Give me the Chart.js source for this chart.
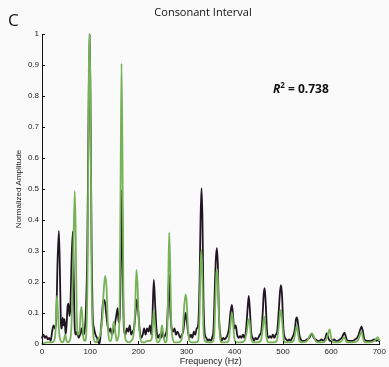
<!DOCTYPE html>
<html>
<head>
<meta charset="utf-8">
<script src="https://cdn.jsdelivr.net/npm/chart.js@4"></script>
<style>
  html, body { margin: 0; padding: 0; background: #fafafa; }
  #wrap { width: 389px; height: 367px; }
</style>
</head>
<body>
<div id="wrap"><canvas id="myChart" width="389" height="367"></canvas></div>
<script>
const xTicks = [0, 100, 200, 300, 400, 500, 600, 700];
const yTicks = [0, 0.1, 0.2, 0.3, 0.4, 0.5, 0.6, 0.7, 0.8, 0.9, 1];
const yTickLabels = ['0', '0.1', '0.2', '0.3', '0.4', '0.5', '0.6', '0.7', '0.8', '0.9', '1'];

// measured spectrum (black)
const blackHz = [0, 3, 6, 9, 12, 15, 18, 21, 24, 27, 30, 32, 35, 37, 39, 41, 43, 45, 47, 49, 51, 53, 55, 57, 59, 61, 64, 66, 68, 70, 73, 76, 79, 82, 85, 88, 91, 94, 97, 99, 101, 103, 105, 108, 111, 114, 117, 119, 121, 124, 127, 129, 131, 133, 136, 139, 142, 145, 148, 151, 154, 157, 159, 161, 164, 166, 168, 170, 173, 176, 179, 182, 185, 188, 191, 194, 197, 200, 203, 206, 209, 212, 215, 218, 221, 224, 227, 229, 232, 235, 238, 241, 244, 247, 250, 253, 256, 259, 262, 264, 266, 269, 272, 275, 278, 281, 284, 287, 290, 293, 296, 298, 300, 303, 306, 309, 312, 315, 318, 321, 324, 327, 329, 331, 333, 335, 338, 341, 344, 347, 350, 353, 356, 359, 361, 363, 365, 367, 370, 373, 376, 379, 382, 385, 388, 391, 394, 396, 399, 402, 405, 408, 411, 414, 417, 420, 423, 426, 429, 431, 434, 437, 440, 443, 446, 449, 452, 455, 458, 460, 462, 464, 467, 470, 473, 476, 479, 482, 485, 488, 491, 494, 496, 498, 501, 504, 507, 510, 513, 516, 519, 522, 525, 527, 529, 531, 534, 537, 540, 545, 550, 555, 558, 561, 564, 568, 572, 576, 580, 584, 588, 591, 594, 598, 602, 606, 610, 614, 618, 622, 625, 628, 631, 635, 640, 645, 650, 654, 657, 660, 663, 666, 669, 674, 680, 686, 690, 694, 697, 700];
const blackAmp = [0.02, 0.03, 0.02, 0.025, 0.015, 0.02, 0.01, 0.04, 0.06, 0.05, 0.1, 0.25, 0.365, 0.25, 0.08, 0.05, 0.085, 0.06, 0.08, 0.03, 0.06, 0.12, 0.13, 0.09, 0.12, 0.25, 0.363, 0.2, 0.05, 0.03, 0.04, 0.02, 0.03, 0.05, 0.03, 0.04, 0.1, 0.3, 0.8, 1.0, 0.7, 0.3, 0.1, 0.05, 0.03, 0.02, 0.005, 0, 0.02, 0.08, 0.14, 0.142, 0.13, 0.1, 0.06, 0.04, 0.05, 0.03, 0.04, 0.06, 0.09, 0.116, 0.07, 0.08, 0.3, 0.497, 0.2, 0.05, 0.03, 0.05, 0.04, 0.06, 0.03, 0.04, 0.05, 0.1, 0.144, 0.1, 0.04, 0.02, 0.03, 0.05, 0.03, 0.05, 0.04, 0.06, 0.03, 0.08, 0.207, 0.12, 0.04, 0.02, 0.03, 0.02, 0.04, 0.02, 0.03, 0.05, 0.15, 0.225, 0.12, 0.05, 0.04, 0.05, 0.03, 0.04, 0.03, 0.02, 0.03, 0.04, 0.08, 0.1, 0.08, 0.04, 0.02, 0.03, 0.02, 0.04, 0.03, 0.05, 0.06, 0.2, 0.4, 0.503, 0.4, 0.15, 0.03, 0.02, 0.01, 0.015, 0.01, 0.02, 0.05, 0.2, 0.28, 0.309, 0.25, 0.1, 0.03, 0.01, 0.02, 0.015, 0.02, 0.03, 0.05, 0.1, 0.126, 0.1, 0.05, 0.06, 0.03, 0.02, 0.025, 0.02, 0.03, 0.02, 0.04, 0.1, 0.155, 0.12, 0.04, 0.02, 0.01, 0.02, 0.015, 0.02, 0.03, 0.04, 0.1, 0.16, 0.18, 0.14, 0.04, 0.02, 0.025, 0.02, 0.03, 0.02, 0.03, 0.04, 0.1, 0.17, 0.19, 0.16, 0.05, 0.02, 0.015, 0.01, 0.015, 0.01, 0.02, 0.03, 0.05, 0.08, 0.086, 0.07, 0.03, 0.015, 0.01, 0.01, 0.015, 0.02, 0.03, 0.03, 0.02, 0.015, 0.01, 0.01, 0.015, 0.01, 0.02, 0.035, 0.02, 0.01, 0.01, 0.015, 0.01, 0.01, 0.015, 0.02, 0.03, 0.037, 0.02, 0.01, 0.01, 0.01, 0.015, 0.02, 0.03, 0.045, 0.056, 0.04, 0.015, 0.01, 0.01, 0.012, 0.015, 0.01, 0.012, 0.01];

// model spectrum (green)
const greenHz = [0, 10, 20, 25, 28, 31, 33, 36, 39, 42, 45, 48, 51, 54, 57, 60, 62, 65, 68, 70, 72, 75, 78, 80, 82, 84, 86, 89, 92, 95, 97, 99, 101, 103, 106, 109, 112, 115, 118, 121, 125, 128, 131, 134, 137, 140, 143, 146, 149, 152, 155, 158, 161, 163, 165, 167, 169, 172, 175, 180, 185, 190, 193, 196, 198, 201, 204, 208, 213, 218, 224, 228, 230, 232, 234, 237, 240, 244, 247, 249, 251, 254, 257, 260, 262, 264, 266, 268, 271, 275, 282, 288, 292, 295, 298, 300, 303, 306, 310, 318, 324, 327, 329, 331, 333, 335, 338, 345, 352, 357, 360, 362, 364, 366, 369, 372, 380, 387, 391, 394, 396, 399, 403, 412, 420, 425, 429, 431, 434, 438, 447, 454, 458, 461, 463, 466, 470, 480, 487, 491, 494, 496, 499, 502, 506, 515, 522, 526, 529, 531, 534, 540, 550, 555, 560, 565, 570, 580, 588, 593, 597, 600, 604, 615, 622, 626, 628, 632, 645, 655, 660, 663, 666, 670, 680, 690, 695, 697, 700];
const greenAmp = [0, 0.005, 0.005, 0.01, 0.04, 0.155, 0.1, 0.03, 0.01, 0.005, 0.01, 0.03, 0.01, 0.005, 0.01, 0.03, 0.1, 0.3, 0.494, 0.35, 0.1, 0.03, 0.04, 0.1, 0.12, 0.08, 0.02, 0.01, 0.04, 0.3, 0.85, 1.0, 0.7, 0.2, 0.04, 0.01, 0.005, 0.01, 0.02, 0.03, 0.08, 0.17, 0.22, 0.18, 0.05, 0.01, 0.01, 0.04, 0.072, 0.04, 0.01, 0.02, 0.1, 0.5, 0.905, 0.6, 0.15, 0.03, 0.01, 0.005, 0.01, 0.03, 0.1, 0.239, 0.2, 0.07, 0.02, 0.005, 0.005, 0.01, 0.01, 0.02, 0.06, 0.11, 0.07, 0.02, 0.005, 0.01, 0.04, 0.06, 0.04, 0.01, 0.005, 0.05, 0.2, 0.36, 0.25, 0.08, 0.02, 0.005, 0.005, 0.01, 0.04, 0.12, 0.16, 0.14, 0.05, 0.01, 0.005, 0.005, 0.01, 0.1, 0.25, 0.303, 0.2, 0.05, 0.01, 0.005, 0.005, 0.02, 0.15, 0.23, 0.24, 0.15, 0.03, 0.005, 0.005, 0.01, 0.06, 0.102, 0.08, 0.02, 0.005, 0.005, 0.01, 0.04, 0.08, 0.07, 0.02, 0.005, 0.005, 0.01, 0.05, 0.088, 0.07, 0.02, 0.005, 0.005, 0.01, 0.05, 0.1, 0.11, 0.06, 0.01, 0.005, 0.005, 0.01, 0.04, 0.06, 0.04, 0.01, 0.005, 0.01, 0.025, 0.035, 0.02, 0.005, 0.005, 0.01, 0.03, 0.047, 0.02, 0.005, 0.005, 0.01, 0.02, 0.02, 0.005, 0.005, 0.01, 0.03, 0.04, 0.02, 0.005, 0.005, 0.01, 0.02, 0.022, 0.01];

const rSquared = '0.738';

const toPoints = (xs, ys) => xs.map((x, i) => ({x: x, y: ys[i]}));

const data = {
    datasets: [{
        label: 'Model',
        data: toPoints(greenHz, greenAmp),
        borderColor: 'rgb(118, 178, 88)',
        borderWidth: 1.8,
        pointRadius: 0,
        cubicInterpolationMode: 'monotone',
        fill: false,
        order: 0,
    }, {
        label: 'Measured',
        data: toPoints(blackHz, blackAmp),
        borderColor: 'rgb(32, 22, 34)',
        borderWidth: 1.8,
        pointRadius: 0,
        cubicInterpolationMode: 'monotone',
        fill: false,
        order: 1,
    }]
};

// inward ticks, panel letter, title and R² text
const extras = {
    id: 'extras',
    beforeDraw(chart) {
        const ctx = chart.ctx;
        ctx.save();
        ctx.fillStyle = '#fafafa';
        ctx.fillRect(0, 0, chart.width, chart.height);
        ctx.restore();
    },
    afterDraw(chart) {
        const ctx = chart.ctx;
        const x = chart.scales.x, y = chart.scales.y;
        const area = chart.chartArea;
        ctx.save();
        ctx.strokeStyle = '#111';
        ctx.lineWidth = 1;
        xTicks.forEach(v => {
            const px = Math.round(x.getPixelForValue(v)) + 0.5;
            ctx.beginPath();
            ctx.moveTo(px, area.bottom);
            ctx.lineTo(px, area.bottom - 3);
            ctx.stroke();
        });
        yTicks.forEach(v => {
            const py = Math.round(y.getPixelForValue(v)) + 0.5;
            ctx.beginPath();
            ctx.moveTo(area.left, py);
            ctx.lineTo(area.left + 3, py);
            ctx.stroke();
        });

        ctx.fillStyle = '#111';
        ctx.textBaseline = 'middle';
        ctx.font = '17px "Open Sans", sans-serif';
        ctx.textAlign = 'left';
        ctx.fillText('C', 8, 21);

        ctx.font = '11px "Open Sans", sans-serif';
        ctx.textAlign = 'center';
        ctx.fillText('Consonant Interval', 203, 13);

        ctx.textAlign = 'left';
        ctx.font = 'italic bold 12px "Open Sans", sans-serif';
        ctx.fillText('R', 273, 90);
        const rw = ctx.measureText('R').width;
        ctx.font = 'bold 8px "Open Sans", sans-serif';
        ctx.fillText('2', 273 + rw, 86);
        const sw = ctx.measureText('2').width;
        ctx.font = 'bold 12px "Open Sans", sans-serif';
        ctx.fillText(' = ' + rSquared, 273 + rw + sw, 90);
        ctx.restore();
    }
};

const tickFont = {family: '"Liberation Sans", Arial, sans-serif', size: 8};

const config = {
    type: 'line',
    data: data,
    options: {
        responsive: false,
        animation: false,
        layout: {padding: {top: 34, right: 7, left: 0, bottom: 0}},
        plugins: {
            legend: {display: false},
            tooltip: {enabled: false},
        },
        scales: {
            x: {
                type: 'linear',
                min: 0,
                max: 700,
                afterFit: s => { s.height = 23; },
                afterBuildTicks: s => { s.ticks = xTicks.map(v => ({value: v})); },
                grid: {display: false, drawTicks: false},
                border: {display: true, color: '#111', width: 1},
                ticks: {font: tickFont, color: '#222', padding: 3, maxRotation: 0},
                title: {
                    display: true,
                    text: 'Frequency (Hz)',
                    font: {family: '"Liberation Sans", Arial, sans-serif', size: 9},
                    color: '#222',
                    padding: {top: 0, bottom: 0},
                },
            },
            y: {
                min: 0,
                max: 1,
                afterFit: s => { s.width = 42; },
                afterBuildTicks: s => { s.ticks = yTicks.map(v => ({value: v})); },
                grid: {display: false, drawTicks: false},
                border: {display: true, color: '#111', width: 1},
                ticks: {
                    font: tickFont,
                    color: '#222',
                    padding: 3,
                    callback: (v, i) => yTickLabels[i],
                },
                title: {
                    display: true,
                    text: 'Normalized Amplitude',
                    font: {family: '"Liberation Sans", Arial, sans-serif', size: 8},
                    color: '#222',
                    padding: {top: 14, bottom: 0},
                },
            },
        },
        elements: {line: {borderCapStyle: 'round', borderJoinStyle: 'round'}},
        clip: false,
    },
    plugins: [extras],
};

const myChart = new Chart(
    document.getElementById('myChart'),
    config
);
</script>
</body>
</html>
